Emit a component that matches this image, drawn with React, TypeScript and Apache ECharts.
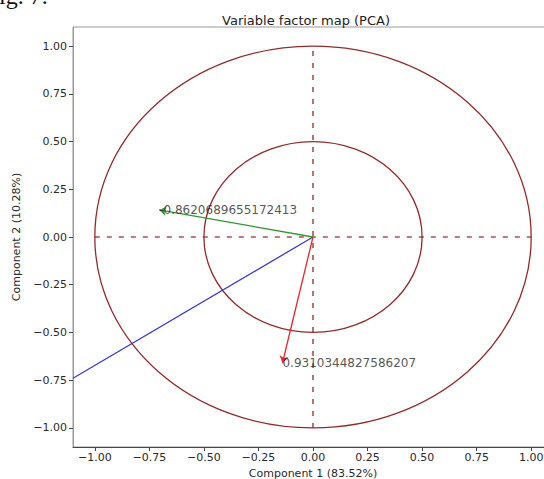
import React, { useEffect, useRef } from "react";
import * as echarts from "echarts";

const xTicks = [-1.0, -0.75, -0.5, -0.25, 0.0, 0.25, 0.5, 0.75, 1.0];
const yTicks = [-1.0, -0.75, -0.5, -0.25, 0.0, 0.25, 0.5, 0.75, 1.0];
const circleRadii = [1.0, 0.5];
const axisCross = { h: [[-1, 0], [1, 0]], v: [[0, -1], [0, 1]] };
const arrowGreen = [[0, 0], [-0.705, 0.142]];
const arrowRed = [[0, 0], [-0.14, -0.66]];
const blueLine = [[0, 0], [-1.1, -0.74]];
const labelGreen = "-0.8620689655172413";
const labelRed = "0.9310344827586207";

const fmt = (v: number) => v.toFixed(2).replace("-", "\u2212");
const FONT = "DejaVu Sans";
const BROWN = "#962a2b";
const DASH = "#a5504f";

export default function App() {
  const ref = useRef<HTMLDivElement>(null);
  useEffect(() => {
    const chart = echarts.init(ref.current!, null, { renderer: "svg" });
    chart.setOption({
      animation: false,
      backgroundColor: "#fff",
      textStyle: { fontFamily: FONT },
      title: {
        text: "Variable factor map (PCA)",
        left: 301,
        top: 9,
        textAlign: "center",
        textStyle: { fontSize: 13, fontWeight: "normal", color: "#222", fontFamily: FONT },
      },
      graphic: [
        {
          type: "text",
          left: -1,
          top: -16,
          style: { text: "ig. 7.", font: "24px 'Liberation Serif', serif", fill: "#111" },
        },
      ],
      grid: {
        left: 73,
        right: -9,
        top: 27,
        bottom: 32,
        containLabel: false,
        outerBoundsMode: "none",
        show: true,
        borderColor: "#999",
        borderWidth: 1,
      },
      xAxis: {
        type: "value",
        min: -1.1,
        max: 1.1,
        name: "Component 1 (83.52%)",
        nameLocation: "middle",
        nameGap: 16,
        nameTextStyle: { fontSize: 11, color: "#2a2a2a", verticalAlign: "top" },
        axisLine: { show: true, onZero: false, lineStyle: { color: "#444" } },
        axisTick: { show: true, length: 4, customValues: xTicks, lineStyle: { color: "#444" } },
        axisLabel: { customValues: xTicks, formatter: fmt, fontSize: 11, color: "#2a2a2a", margin: 5 },
        splitLine: { show: false },
      },
      yAxis: {
        type: "value",
        min: -1.1,
        max: 1.1,
        name: "Component 2 (10.28%)",
        nameLocation: "middle",
        nameGap: 48,
        nameTextStyle: { fontSize: 11, color: "#2a2a2a" },
        axisLine: { show: true, onZero: false, lineStyle: { color: "#999" } },
        axisTick: { show: true, length: 4, customValues: yTicks, lineStyle: { color: "#444" } },
        axisLabel: { customValues: yTicks, formatter: fmt, fontSize: 11, color: "#2a2a2a", margin: 6 },
        splitLine: { show: false },
      },
      series: [
        {
          type: "custom",
          data: circleRadii.map((r) => [0, 0, r]),
          renderItem: (params: any, api: any) => {
            const c = api.coord([api.value(0), api.value(1)]);
            const r = api.value(2);
            const sx = api.size([r, 0])[0];
            const sy = api.size([0, r])[1];
            return {
              type: "ellipse",
              shape: { cx: c[0], cy: c[1], rx: sx, ry: sy },
              style: { fill: "none", stroke: BROWN, lineWidth: 1.3 },
            };
          },
          z: 2,
        },
        {
          type: "line",
          data: axisCross.h,
          symbol: "none",
          lineStyle: { color: DASH, width: 1.6, type: [5, 7] },
          z: 1,
        },
        {
          type: "line",
          data: axisCross.v,
          symbol: "none",
          lineStyle: { color: DASH, width: 1.6, type: [5, 7] },
          z: 1,
        },
        {
          type: "line",
          data: blueLine,
          symbol: "none",
          lineStyle: { color: "#3a3ad6", width: 1.3 },
          z: 3,
        },
        {
          type: "lines",
          coordinateSystem: "cartesian2d",
          symbol: ["none", "arrow"],
          symbolSize: 7,
          data: [
            { coords: arrowGreen, lineStyle: { color: "#2a9a2a" } },
            { coords: arrowRed, lineStyle: { color: "#e8262a" } },
          ],
          lineStyle: { width: 1.3, opacity: 1 },
          z: 4,
        },
        {
          type: "scatter",
          symbolSize: 0,
          data: [
            { value: arrowGreen[1], label: { formatter: labelGreen } },
            { value: arrowRed[1], label: { formatter: labelRed } },
          ],
          label: {
            show: true,
            position: "right",
            distance: 0,
            fontSize: 12,
            color: "#2a2a2a",
            fontFamily: FONT,
          },
          z: 5,
        },
      ],
    });
    return () => chart.dispose();
  }, []);
  return (
    <div
      ref={ref}
      style={{ position: "absolute", left: 0, top: 0, width: 544, height: 479 }}
    />
  );
}
